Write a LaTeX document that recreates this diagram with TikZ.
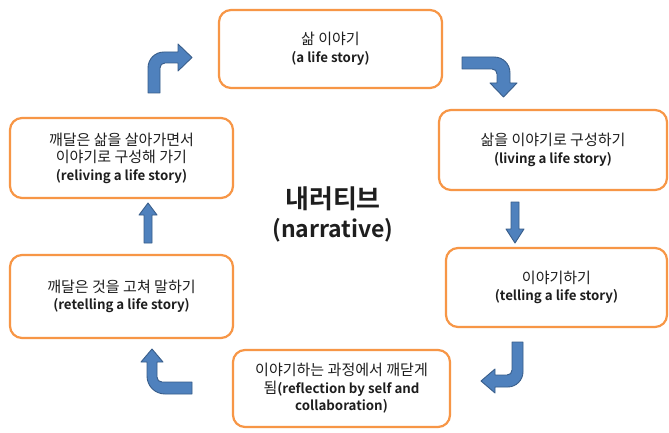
\documentclass[tikz,border=0pt]{standalone}
\usepackage{fontspec}
\setmainfont{Noto Sans CJK KR}[BoldFont={Noto Sans CJK KR Bold}]
\newfontfamily\kor{Noto Sans CJK KR}[Scale=1.13,BoldFont={Noto Sans CJK KR Bold}]
\definecolor{boxorange}{RGB}{247,150,70}
\definecolor{arrowfill}{RGB}{79,129,189}
\definecolor{arrowline}{RGB}{56,93,138}
\definecolor{txt}{RGB}{30,30,30}
\tikzset{
  stagebox/.style={draw=boxorange, line width=2.2pt, fill=white, rounded corners=12pt,
    align=center, inner sep=0pt, outer sep=0pt, text=txt,
    font=\fontsize{13.3}{17.5}\selectfont},
  blockarrow/.style={fill=arrowfill, draw=arrowline, line width=0.9pt, line join=round}
}
\begin{document}
\begin{tikzpicture}[x=1pt,y=-1pt]
\useasboundingbox (0,0) rectangle (669,433);
\fill[white] (0,0) rectangle (669,433);

\node[stagebox, minimum width=223pt, minimum height=78pt] (b1) at (330.5,49)
  {{\kor 삶 이야기}\\\textbf{(a life story)}};
\node[stagebox, minimum width=228pt, minimum height=80pt] (b2) at (553,150)
  {{\kor 삶을 이야기로 구성하기}\\\textbf{(living a life story)}};
\node[stagebox, minimum width=221pt, minimum height=79pt] (b3) at (556.5,287.5)
  {{\kor 이야기하기}\\\textbf{(telling a life story)}};
\node[stagebox, minimum width=217pt, minimum height=77pt] (b4) at (341.5,388.5)
  {{\kor 이야기하는 과정에서 깨닫게}\\{\kor 됨}\textbf{(reflection by self and}\\\textbf{collaboration)}};
\node[stagebox, minimum width=223pt, minimum height=83pt] (b5) at (121.5,296.5)
  {{\kor 깨달은 것을 고쳐 말하기}\\\textbf{(retelling a life story)}};
\node[stagebox, minimum width=223pt, minimum height=80pt] (b6) at (121.5,158)
  {{\kor 깨달은 삶을 살아가면서}\\{\kor 이야기로 구성해 가기}\\\textbf{(reliving a life story)}};

\node[align=center, text=txt, font=\fontsize{23}{29}\selectfont\bfseries] (title) at (333,214)
  {{\kor\bfseries 내러티브}\\(narrative)};

% b6 -> b1 : up then right
\draw[blockarrow] (148,93) -- (148,68) .. controls (148,59) and (155,52) .. (164,52)
  -- (178,52) -- (178,44) -- (192,57.5) -- (178,71) -- (178,63) -- (165,63)
  .. controls (162,63) and (160,65) .. (160,68) -- (160,93) -- cycle;
% b1 -> b2 : right then down
\draw[blockarrow] (462,57) -- (494,57) .. controls (503,57) and (510,64) .. (510,73)
  -- (510,83) -- (517,83) -- (503.5,97) -- (490,83) -- (497,83) -- (497,74)
  .. controls (497,71) and (495,69) .. (492,69) -- (462,69) -- cycle;
% b2 -> b3 : down
\draw[blockarrow] (511,202) -- (519,202) -- (519,229) -- (524,229) -- (515,243)
  -- (506,229) -- (511,229) -- cycle;
% b3 -> b4 : down then left
\draw[blockarrow] (512,342) -- (523,342) -- (523,372) .. controls (523,380) and (516,387) .. (508,387)
  -- (495,387) -- (495,393) -- (481,381) -- (495,369) -- (495,375) -- (507,375)
  .. controls (510,375) and (512,373) .. (512,370) -- cycle;
% b4 -> b5 : left then up
\draw[blockarrow] (192,382) -- (162,382) .. controls (159,382) and (157,380) .. (157,377)
  -- (157,362) -- (163,362) -- (152,349) -- (141,362) -- (147,362) -- (147,376)
  .. controls (147,386) and (155,394) .. (165,394) -- (192,394) -- cycle;
% b5 -> b6 : up
\draw[blockarrow] (144,243) -- (152,243) -- (152,215) -- (157,215) -- (148,203)
  -- (139,215) -- (144,215) -- cycle;
\end{tikzpicture}
\end{document}
